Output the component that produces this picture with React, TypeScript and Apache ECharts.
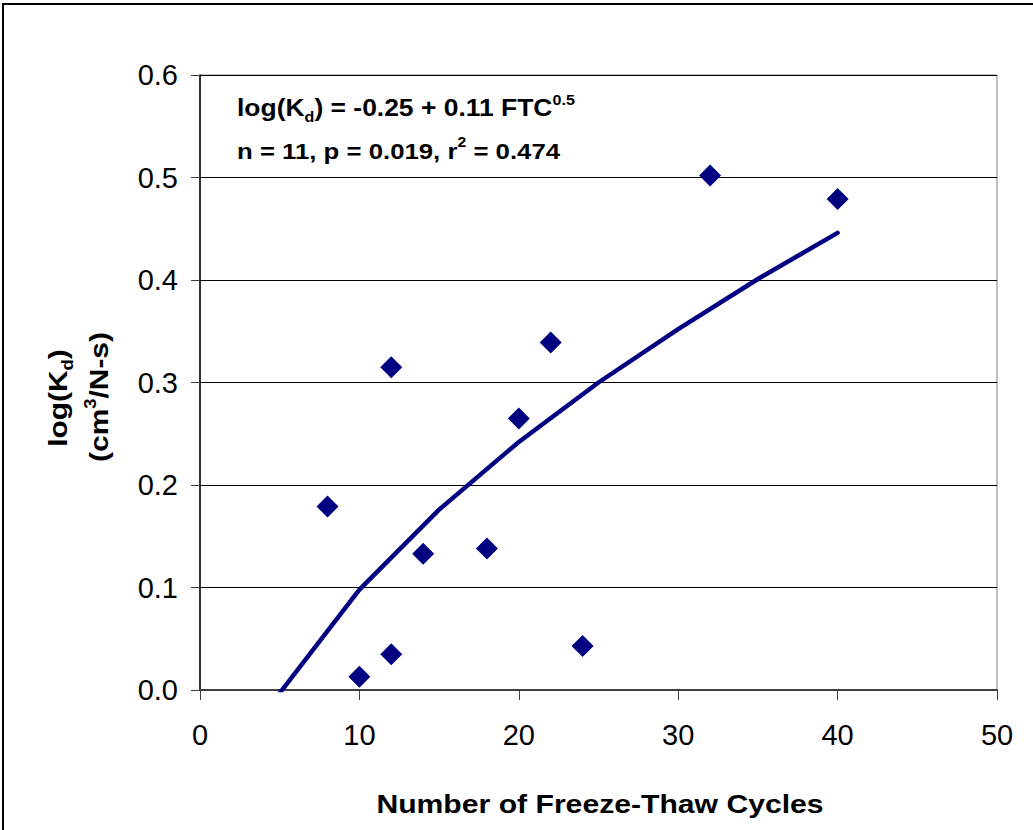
import React, { useEffect, useRef } from "react";
import * as echarts from "echarts";

const cycles = [8, 10, 12, 12, 14, 18, 20, 22, 24, 32, 40];
const logKd = [0.179, 0.013, 0.315, 0.035, 0.133, 0.138, 0.265, 0.339, 0.043, 0.502, 0.479];
const fitX = [5, 10, 15, 20, 25, 30, 35, 40];
const fitY = [-0.003, 0.098, 0.176, 0.242, 0.3, 0.352, 0.401, 0.446];
const xTicks = [0, 10, 20, 30, 40, 50];
const yTicks = [0.0, 0.1, 0.2, 0.3, 0.4, 0.5, 0.6];

const FONT = "'Liberation Sans', Arial, sans-serif";
const NAVY = "#000080";

export default function App() {
  const ref = useRef<HTMLDivElement>(null);
  useEffect(() => {
    if (!ref.current) return;
    const chart = echarts.init(ref.current, null, { renderer: "svg" });
    const boldRich = (size: number) => ({
      a: { fontFamily: FONT, fontWeight: "bold", fontSize: size, color: "#000", lineHeight: size + 8 },
      sub: { fontFamily: FONT, fontWeight: "bold", fontSize: Math.round(size * 0.62), color: "#000", verticalAlign: "bottom" },
      sup: { fontFamily: FONT, fontWeight: "bold", fontSize: Math.round(size * 0.62), color: "#000", verticalAlign: "top" },
    });
    const txtStyle = (text: string, size: number, align: string) => ({
      text,
      rich: boldRich(size),
      fontFamily: FONT,
      fontWeight: "bold",
      fontSize: size,
      fill: "#000",
      align,
      verticalAlign: "middle",
    });
    chart.setOption({
      animation: false,
      backgroundColor: "#fff",
      grid: {
        left: 200,
        right: 36,
        top: 75,
        bottom: 140,
        show: true,
        borderColor: "#808080",
        borderWidth: 1,
        containLabel: false,
      },
      xAxis: {
        type: "value",
        min: 0,
        max: 50,
        interval: 10,
        axisLine: { show: true, lineStyle: { color: "#404040", width: 2 } },
        axisTick: { show: true, inside: false, length: 10, lineStyle: { color: "#404040" } },
        axisLabel: {
          fontFamily: FONT,
          fontSize: 29,
          color: "#000",
          margin: 30,
          formatter: (v: number) => (xTicks.includes(v) ? String(v) : ""),
        },
        splitLine: { show: false },
      },
      yAxis: {
        type: "value",
        min: 0,
        max: 0.6,
        interval: 0.1,
        axisLine: { show: true, onZero: false, lineStyle: { color: "#000", width: 1.5 } },
        axisTick: { show: true, inside: false, length: 9, lineStyle: { color: "#404040" } },
        axisLabel: {
          fontFamily: FONT,
          fontSize: 29,
          color: "#000",
          margin: 22,
          formatter: (v: number) => {
            const t = yTicks.find((y) => Math.abs(y - v) < 1e-6);
            return t === undefined ? "" : t.toFixed(1);
          },
        },
        splitLine: { show: true, lineStyle: { color: "#000", width: 1 } },
      },
      series: [
        {
          type: "line",
          data: fitX.map((x, i) => [x, fitY[i]]),
          showSymbol: false,
          symbol: "none",
          lineStyle: { color: NAVY, width: 4.5, cap: "round", join: "round" },
          z: 3,
        },
        {
          type: "scatter",
          data: cycles.map((x, i) => [x, logKd[i]]),
          symbol: "diamond",
          symbolSize: [22, 22],
          itemStyle: { color: NAVY, opacity: 1 },
          z: 4,
        },
      ],
      graphic: [
        {
          type: "rect",
          shape: { x: 3, y: 4, width: 1200, height: 1000 },
          style: { fill: "none", stroke: "#000", lineWidth: 2 },
          silent: true,
        },
        {
          type: "text",
          x: 237,
          y: 108,
          scaleX: 1.15,
          style: txtStyle("{a|log(K}{sub|d}{a|) = -0.25 + 0.11 FTC}{sup|0.5}", 23, "left"),
        },
        {
          type: "text",
          x: 237,
          y: 151,
          scaleX: 1.12,
          style: txtStyle("{a|n = 11, p = 0.019, r}{sup|2}{a| = 0.474}", 23, "left"),
        },
        {
          type: "text",
          x: 600,
          y: 804,
          scaleX: 1.16,
          style: txtStyle("{a|Number of Freeze-Thaw Cycles}", 26, "center"),
        },
        {
          type: "text",
          x: 58,
          y: 398,
          rotation: Math.PI / 2,
          scaleX: 1.15,
          style: txtStyle("{a|log(K}{sub|d}{a|)}", 26, "center"),
        },
        {
          type: "text",
          x: 99,
          y: 397,
          rotation: Math.PI / 2,
          scaleX: 1.15,
          style: txtStyle("{a|(cm}{sup|3}{a|/N-s)}", 26, "center"),
        },
      ],
    });
    return () => chart.dispose();
  }, []);
  return (
    <div
      ref={ref}
      style={{ position: "fixed", left: 0, top: 0, width: 1033, height: 830 }}
    />
  );
}
